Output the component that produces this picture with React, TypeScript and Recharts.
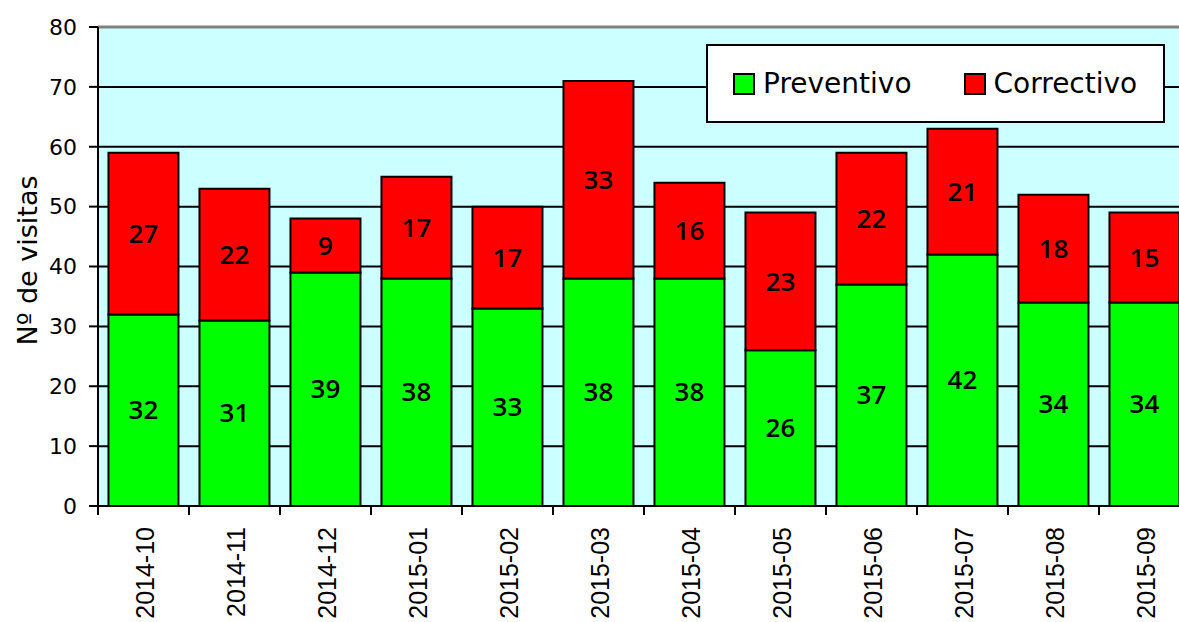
import React from "react";
import {
  BarChart,
  Bar,
  XAxis,
  YAxis,
  CartesianGrid,
  LabelList,
  ReferenceLine,
} from "recharts";

const months = [
  "2014-10", "2014-11", "2014-12", "2015-01", "2015-02", "2015-03",
  "2015-04", "2015-05", "2015-06", "2015-07", "2015-08", "2015-09",
];
const preventivo = [32, 31, 39, 38, 33, 38, 38, 26, 37, 42, 34, 34];
const correctivo = [27, 22, 9, 17, 17, 33, 16, 23, 22, 21, 18, 15];
const yTicks = [0, 10, 20, 30, 40, 50, 60, 70, 80];

const series = [
  { key: "preventivo", name: "Preventivo", color: "#00FF00" },
  { key: "correctivo", name: "Correctivo", color: "#FF0000" },
];

const data = months.map((m, i) => ({
  month: m,
  preventivo: preventivo[i],
  correctivo: correctivo[i],
}));

const FONT = "'DejaVu Sans', Verdana, sans-serif";
const CHART_W = 1200;
const CHART_H = 622;
const Y_W = 98;
const RIGHT = 10;
const BAND = (CHART_W - Y_W - RIGHT) / months.length;

function MonthTick(props: any) {
  const { x, y, payload } = props;
  const bx = x - BAND / 2;
  return (
    <g>
      <line x1={bx} x2={bx} y1={y} y2={y + 9} stroke="#000" strokeWidth={2} />
      <text
        transform={`translate(${x + 1},${y + 21}) rotate(-90)`}
        textAnchor="end"
        dominantBaseline="central"
        fontSize={25}
        fontFamily="'Liberation Sans', Arial, sans-serif"
        fill="#000"
      >
        {payload.value}
      </text>
    </g>
  );
}

function YLabel(props: any) {
  const { viewBox } = props;
  const cy = viewBox.y + viewBox.height / 2;
  return (
    <text
      transform={`translate(27,${cy - 6}) rotate(-90)`}
      textAnchor="middle"
      dominantBaseline="central"
      fontSize={27}
      fontFamily={FONT}
      fill="#000"
    >
      Nº de visitas
    </text>
  );
}

const labelStyle = {
  fontWeight: 600,
  fontSize: 26,
  fontFamily: "'Open Sans', sans-serif",
};

export default function App() {
  return (
    <div
      style={{
        position: "fixed",
        left: 0,
        top: 0,
        width: 1179,
        height: 622,
        overflow: "hidden",
        background: "#fff",
      }}
    >
      <div style={{ position: "relative", width: CHART_W, height: CHART_H }}>
        <BarChart
          width={CHART_W}
          height={CHART_H}
          data={data}
          margin={{ top: 27, right: RIGHT, bottom: 0, left: 0 }}
          barCategoryGap="11.5%"
        >
          <CartesianGrid
            vertical={false}
            fill="#CCFFFF"
            fillOpacity={1}
            stroke="#000"
            strokeWidth={2}
          />
          <ReferenceLine y={80} stroke="#808080" strokeWidth={3} />
          <XAxis
            dataKey="month"
            height={116}
            interval={0}
            tickLine={false}
            tickSize={0}
            tickMargin={0}
            axisLine={{ stroke: "#000", strokeWidth: 2 }}
            tick={<MonthTick />}
          />
          <YAxis
            width={Y_W}
            domain={[0, 80]}
            ticks={yTicks}
            interval={0}
            tickSize={9}
            tickMargin={12}
            axisLine={{ stroke: "#000", strokeWidth: 2 }}
            tickLine={{ stroke: "#000", strokeWidth: 2 }}
            tick={{ fill: "#000", fontSize: 22, fontFamily: FONT }}
            label={<YLabel />}
          />
          {series.map((s) => (
            <Bar
              key={s.key}
              dataKey={s.key}
              name={s.name}
              stackId="a"
              fill={s.color}
              stroke="#000"
              strokeWidth={2}
              isAnimationActive={false}
            >
              <LabelList
                dataKey={s.key}
                position="center"
                fill="#000"
                style={labelStyle}
              />
            </Bar>
          ))}
        </BarChart>
        <div
          style={{
            position: "absolute",
            left: 706,
            top: 44,
            width: 459,
            height: 79,
            boxSizing: "border-box",
            border: "2px solid #000",
            background: "#fff",
            display: "flex",
            alignItems: "center",
            paddingLeft: 25,
            fontFamily: FONT,
            fontSize: 28,
            color: "#000",
          }}
        >
          {series.map((s, i) => (
            <div
              key={s.key}
              style={{
                display: "flex",
                alignItems: "center",
                marginLeft: i === 0 ? 0 : 52,
              }}
            >
              <span
                style={{
                  display: "inline-block",
                  boxSizing: "border-box",
                  width: 22,
                  height: 22,
                  background: s.color,
                  border: "2px solid #000",
                  marginRight: 8,
                }}
              />
              <span>{s.name}</span>
            </div>
          ))}
        </div>
      </div>
    </div>
  );
}
